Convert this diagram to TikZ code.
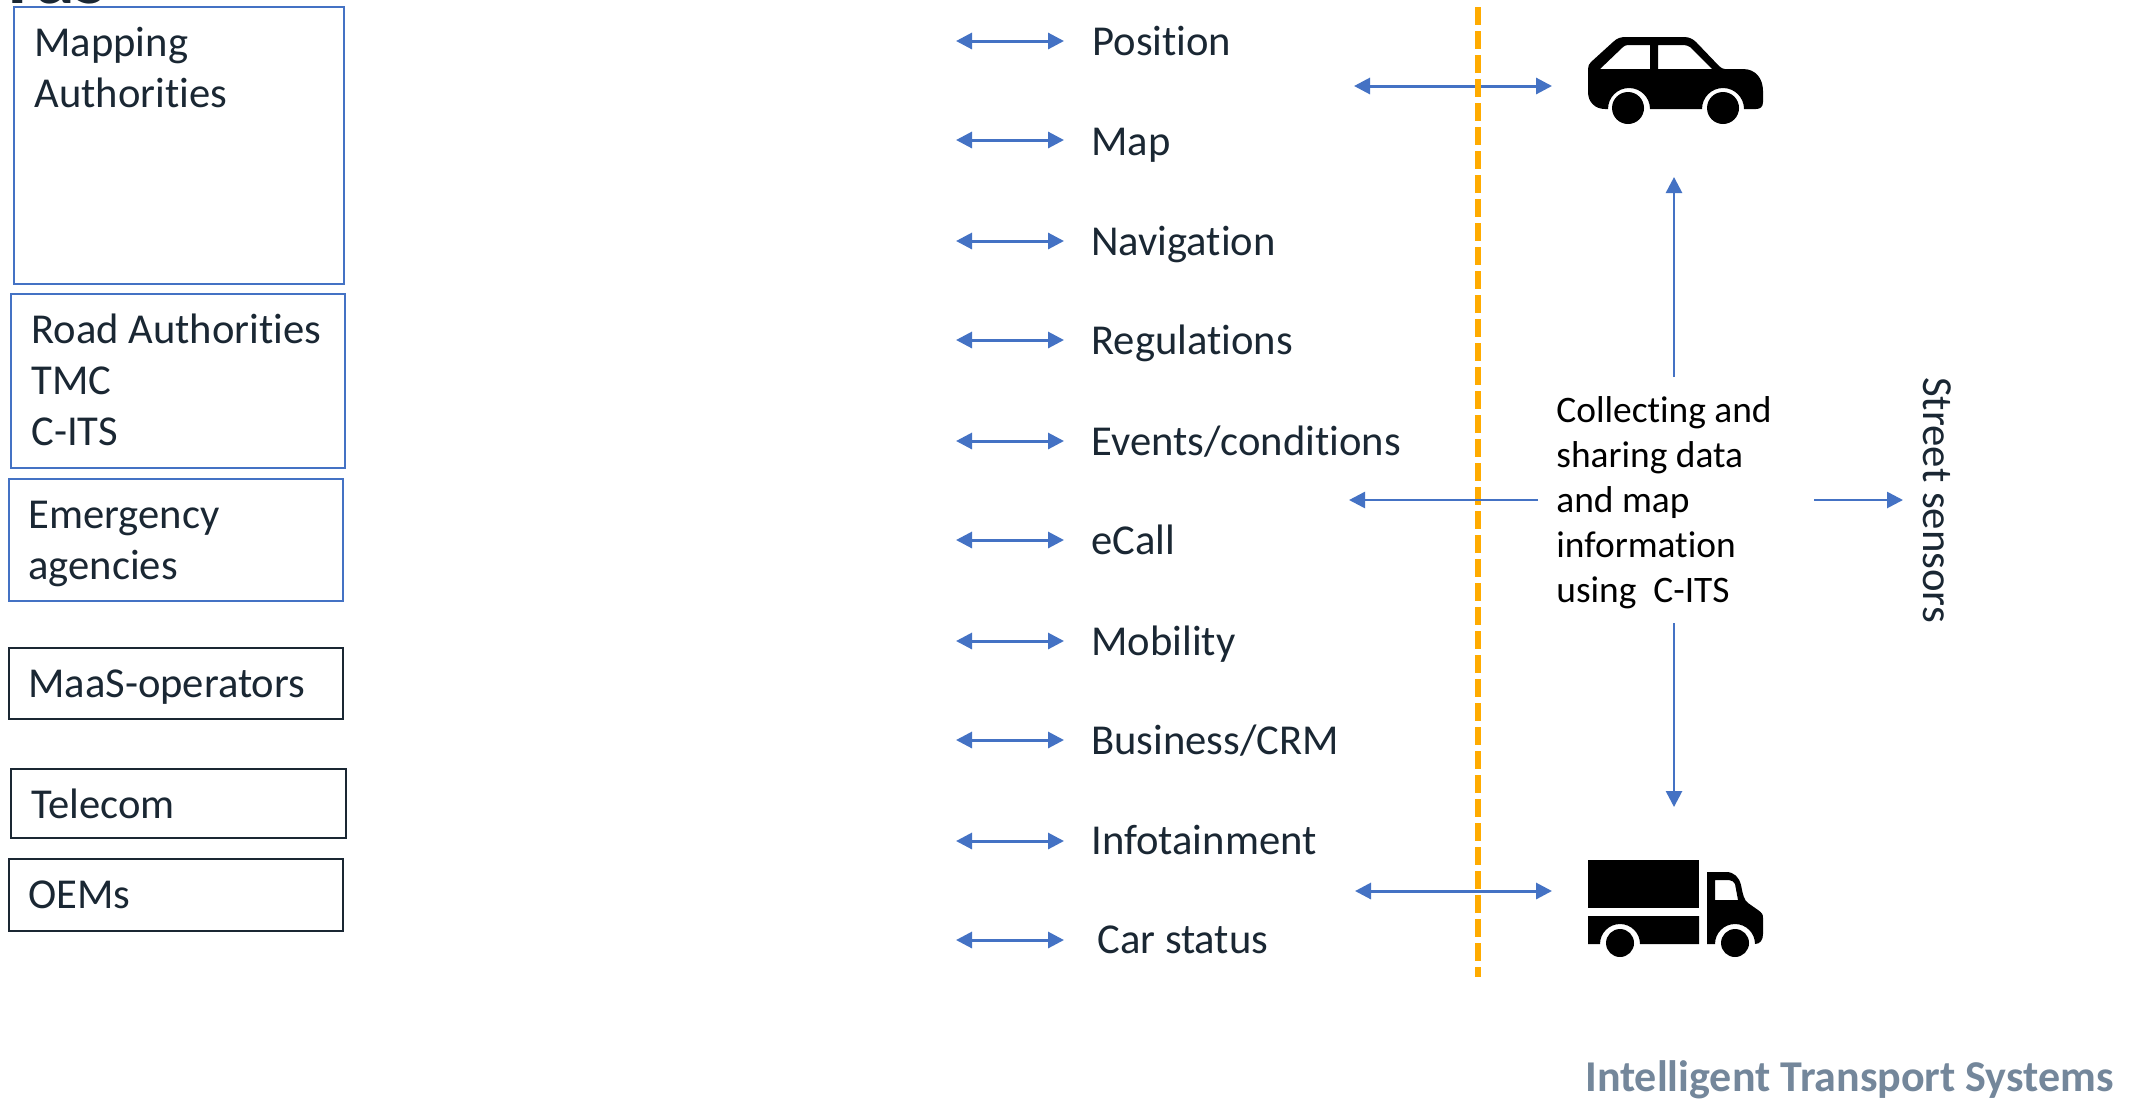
\documentclass[tikz,border=0pt]{standalone}
\usepackage{fontspec}
\setmainfont{Carlito}[Ligatures=NoCommon]
\usetikzlibrary{arrows.meta}
\definecolor{arrowblue}{HTML}{4472C4}
\definecolor{inkdark}{HTML}{1A2733}
\definecolor{roadorange}{HTML}{FFAB00}
\definecolor{footgrey}{HTML}{74879B}
\tikzset{
  x=0.5pt,y=-0.5pt,
  bluebox/.style={draw=arrowblue,line width=1pt},
  blackbox/.style={draw=inkdark,line width=1pt},
  boxtext/.style={anchor=base west,inner sep=0pt,align=left,text=inkdark,font=\fontsize{21.3pt}{25.5pt}\selectfont},
  itemtext/.style={anchor=base west,inner sep=0pt,text=inkdark,font=\fontsize{21.3pt}{25pt}\selectfont},
  both/.style={draw=arrowblue,line width=1.5pt,{Triangle[length=8pt,width=8pt]}-{Triangle[length=8pt,width=8pt]}},
  single/.style={draw=arrowblue,line width=1.3pt,-{Triangle[length=8pt,width=8pt]}},
}
\begin{document}
\begin{tikzpicture}
\useasboundingbox (0,0) rectangle (2134,1099);
\fill[white] (0,0) rectangle (2134,1099);
\begin{scope}
\clip (0,0) rectangle (2134,1099);
\node[anchor=base west,inner sep=0pt,text=inkdark,font=\fontsize{40pt}{44pt}\bfseries\selectfont] (cut) at (8,3) {ras};
\end{scope}
% boxes
\draw[bluebox] (14,7) rectangle (344,284);
\draw[bluebox] (11,294) rectangle (345,468);
\draw[bluebox] (9,479) rectangle (343,601);
\draw[blackbox] (9,648) rectangle (343,719);
\draw[blackbox] (11,769) rectangle (346,838);
\draw[blackbox] (9,859) rectangle (343,931);
\node[boxtext] (mapping) at (34,107) {Mapping\\Authorities};
\node[boxtext] (road) at (31,445) {Road Authorities\\TMC\\C-ITS};
\node[boxtext] (emerg) at (28,579) {Emergency\\agencies};
\node[boxtext] (maas) at (28,697) {MaaS-operators};
\node[boxtext] (tel) at (31,818) {Telecom};
\node[boxtext] (oem) at (28,908) {OEMs};
% road line
\draw[roadorange,line width=3pt,dash pattern=on 9pt off 3pt] (1478,7) -- (1478,977);
% list
\foreach \n/\y/\t/\lx/\dy in {a/41/Position/1092/14,b/140/Map/1091/15,c/241/Navigation/1091/14,d/340/Regulations/1091/14,e/441/Events\slash conditions/1091/14,f/540/eCall/1091/14,g/641/Mobility/1091/14,h/740/Business\slash CRM/1091/14,i/841/Infotainment/1091/13,j/940/Car status/1097/13}{
  \coordinate (l\n) at (956,\y);
  \coordinate (r\n) at (1064,\y);
  \draw[both] (l\n) -- (r\n);
  \node[itemtext] (t\n) at (\lx,\y+\dy) {\t};
}
% car link
\coordinate (carl) at (1354,86);
\coordinate (carr) at (1552,86);
\draw[both] (carl) -- (carr);
\fill[roadorange] (1475,79) rectangle (1481,97);
% truck link
\coordinate (trl) at (1355,891);
\coordinate (trr) at (1552,891);
\draw[both] (trl) -- (trr);
% central
\node[anchor=base west,inner sep=0pt,align=left,text=black,font=\fontsize{18.7pt}{22.4pt}\selectfont] (share) at (1556,602)
 {Collecting and\\sharing data\\and map\\information\\using\ \ C-ITS};
\coordinate (upa) at (1674,377);
\coordinate (upb) at (1674,177);
\coordinate (dna) at (1674,623);
\coordinate (dnb) at (1674,807);
\coordinate (lfa) at (1538,500);
\coordinate (lfb) at (1349,500);
\coordinate (rta) at (1814,500);
\coordinate (rtb) at (1903,500);
\draw[single] (upa) -- (upb);
\draw[single] (dna) -- (dnb);
\draw[single] (lfa) -- (lfb);
\draw[single] (rta) -- (rtb);
\node[rotate=-90,inner sep=0pt,text=inkdark,font=\fontsize{21.4pt}{25pt}\selectfont] (street) at (1937,500) {Street sensors};
% car icon
\begin{scope}[shift={(1588,37)}]
\fill[black,even odd rule]
 (0,32) .. controls (0,29) and (1,27) .. (3,25) -- (25,5) .. controls (29,1) and (33,0) .. (38,0)
 -- (96,0) .. controls (101,0) and (105,2) .. (108,5) -- (131,29) .. controls (133,31) and (135,32) .. (137,32) -- (155,32)
 .. controls (168,32) and (175,42) .. (175,54) -- (175,65) .. controls (175,70) and (172,72) .. (168,72)
 -- (156,72) arc[start angle=0,end angle=-180,radius=21] -- (62,72)
 arc[start angle=0,end angle=-180,radius=21] -- (17,72) .. controls (7,72) and (0,65) .. (0,55) -- cycle
 (12,32) -- (35,10) .. controls (36,9) and (38,8) .. (40,8) -- (62,8) -- (62,32) -- cycle
 (70,8) -- (96,8) .. controls (98,8) and (100,9) .. (102,10) -- (124,32) -- (70,32) -- cycle;
\fill[black] (40,71) circle (16);
\fill[black] (135,71) circle (16);
\end{scope}
% truck icon
\begin{scope}[shift={(1588,860)}]
\fill[black] (0,0) rectangle (111,48);
\fill[black] (0,56) -- (111,56) -- (111,84) -- (52,84) arc[start angle=0,end angle=-180,radius=20] -- (0,84) -- cycle;
\fill[black,even odd rule] (119,12) -- (138,12) .. controls (146,12) and (151,17) .. (153,25)
 .. controls (155,35) and (156,40) .. (160,43) -- (170,50) .. controls (174,53) and (175,54) .. (175,58)
 -- (175,74) .. controls (175,80) and (172,84) .. (167,84) arc[start angle=0,end angle=-180,radius=20] -- (119,84) -- cycle
 (127,20) -- (141,20) .. controls (144,20) and (146,22) .. (147,24) -- (150,40) -- (127,40) -- cycle;
\fill[black] (32,83) circle (14);
\fill[black] (147,83) circle (14);
\end{scope}
\node[anchor=base east,inner sep=0pt,text=footgrey,font=\fontsize{22pt}{24pt}\bfseries\selectfont] (foot) at (2114,1091) {Intelligent Transport Systems};
\end{tikzpicture}
\end{document}
